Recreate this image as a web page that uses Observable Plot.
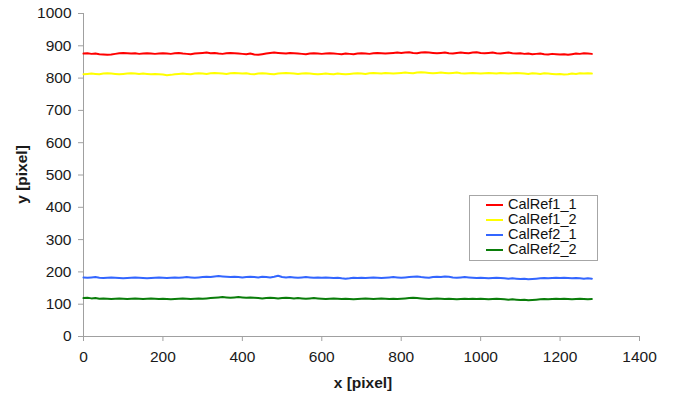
<!DOCTYPE html>
<html>
<head>
<meta charset="utf-8">
<script src="https://cdn.jsdelivr.net/npm/d3@7"></script>
<script src="https://cdn.jsdelivr.net/npm/@observablehq/plot@0.6"></script>
<style>
  body { margin: 0; background: #fff; font-family: "Liberation Sans", Arial, sans-serif; }
  #wrap { position: relative; width: 679px; height: 399px; }
  #legend {
    position: absolute; left: 469px; top: 195px; width: 127px; height: 63px;
    border: 1px solid #a6a6a6; background: #fff; box-sizing: content-box;
    font-size: 14.5px; line-height: 15px; color: #111; padding-top: 1px;
  }
  #legend .row { display: flex; align-items: center; height: 15px; }
  #legend .sw { width: 17px; height: 2px; margin-left: 16px; margin-right: 5px; }
</style>
</head>
<body>
<div id="wrap"><div id="chart"></div><div id="legend"></div></div>
<script>
// Position along the sensor row (x, pixel), sampled every 10 px
const step = 10;
const seriesNames = ["CalRef1_1", "CalRef1_2", "CalRef2_1", "CalRef2_2"];
const seriesColors = ["#ff0000", "#ffff00", "#3366ff", "#0a7d0a"];

// Measured y position [pixel] of each calibration reference
const calRef1_1 = [
  876,877,875,876,874,873,872,873,875,877,
  878,877,876,877,875,876,877,876,875,876,
  877,876,875,877,878,876,875,874,876,877,
  878,879,877,878,876,875,877,878,877,876,
  875,874,876,873,872,874,876,878,879,878,
  877,876,878,877,876,875,874,876,877,876,
  875,876,877,876,875,874,876,875,874,876,
  877,876,875,877,878,877,876,877,878,879,
  878,879,880,878,877,879,880,879,878,877,
  878,879,877,876,878,879,878,877,879,880,
  878,877,878,879,877,876,878,879,877,876,
  877,875,876,874,875,876,874,873,875,874,
  873,874,872,874,876,875,877,876,875
];
const calRef1_2 = [
  812,813,814,813,812,814,815,814,813,812,
  813,814,815,814,813,814,813,812,813,812,
  811,809,810,812,813,814,813,812,814,815,
  814,813,815,816,815,814,813,815,816,815,
  814,815,813,812,814,815,814,813,812,814,
  815,816,815,814,813,814,815,814,813,812,
  813,814,813,812,814,813,812,813,814,815,
  814,813,815,816,815,814,816,815,814,815,
  816,817,816,815,817,818,817,816,815,816,
  817,816,815,816,817,815,814,815,816,815,
  814,815,816,815,814,816,815,814,815,816,
  815,814,813,815,814,813,815,814,813,812,
  813,811,812,814,813,815,814,815,814
];
const calRef2_1 = [
  183,182,183,184,182,181,182,183,182,181,
  180,181,182,183,182,181,180,181,182,183,
  182,181,182,183,182,183,184,183,182,183,
  184,185,184,186,187,186,185,184,185,184,
  183,184,185,184,183,185,184,183,185,188,
  184,183,184,183,182,183,184,183,182,183,
  182,183,182,181,182,180,179,180,182,181,
  182,181,182,183,182,181,182,183,184,183,
  182,183,184,185,186,184,183,182,184,185,
  184,186,185,183,182,183,184,183,182,181,
  182,181,180,181,182,181,180,179,180,179,
  178,179,177,178,179,180,181,180,181,182,
  181,182,181,180,181,180,179,180,179
];
const calRef2_2 = [
  119,120,118,119,117,118,117,116,117,118,
  117,116,117,118,117,116,117,118,117,116,
  117,116,115,116,117,118,117,116,117,118,
  117,118,119,120,121,122,121,120,121,122,
  121,120,121,120,119,118,119,120,119,118,
  119,120,119,118,119,118,117,118,119,118,
  117,116,117,118,117,116,117,116,115,116,
  117,118,117,116,117,118,117,116,117,116,
  117,118,119,120,119,118,117,116,117,118,
  117,116,117,116,115,116,117,116,117,116,
  117,116,115,116,117,116,115,114,115,114,
  113,114,112,113,114,115,116,115,116,117,
  116,117,116,115,116,117,116,115,116
];

const xTicks = [0, 200, 400, 600, 800, 1000, 1200, 1400];
const yTicks = [0, 100, 200, 300, 400, 500, 600, 700, 800, 900, 1000];

const allSeries = [calRef1_1, calRef1_2, calRef2_1, calRef2_2];
const rows = allSeries.flatMap((vals, s) =>
  vals.map((v, i) => ({ series: seriesNames[s], x: i * step, y: v }))
);

const axisGray = "#a0a0a0";
const ink = "#1a1a1a";
const chart = Plot.plot({
  width: 679,
  height: 399,
  marginLeft: 83,
  marginRight: 40,
  marginTop: 13,
  marginBottom: 63,
  style: { fontFamily: "'Liberation Sans', Arial, sans-serif", fontSize: "15.5px", color: ink, background: "#fff" },
  x: { type: "linear", domain: [0, 1400] },
  y: { type: "linear", domain: [0, 1000] },
  color: { domain: seriesNames, range: seriesColors },
  marks: [
    Plot.ruleX([0], { stroke: axisGray }),
    Plot.ruleY([0], { stroke: axisGray }),
    Plot.axisX({ ticks: xTicks, tickFormat: d => String(d), tickSize: 5, tickPadding: 9,
                 stroke: axisGray, fill: ink, label: null, fontSize: 15.5 }),
    Plot.axisY({ ticks: yTicks, tickFormat: d => String(d), tickSize: 5, tickPadding: 7,
                 stroke: axisGray, fill: ink, label: null, fontSize: 15.5 }),
    Plot.line(rows, { x: "x", y: "y", z: "series", stroke: "series", strokeWidth: 2 })
  ]
});

// axis titles
const svg = d3.select(chart);
svg.append("text")
  .attr("x", 83 + (679 - 40 - 83) / 2 + 2).attr("y", 388)
  .attr("text-anchor", "middle").attr("font-weight", "bold").attr("font-size", 15.5)
  .attr("fill", ink).text("x [pixel]");
svg.append("text")
  .attr("transform", `translate(27, ${13 + (399 - 63 - 13) / 2}) rotate(-90)`)
  .attr("text-anchor", "middle").attr("font-weight", "bold").attr("font-size", 15.5)
  .attr("fill", ink).text("y [pixel]");

document.getElementById("chart").append(chart);

const legend = document.getElementById("legend");
seriesNames.forEach((name, i) => {
  const row = document.createElement("div");
  row.className = "row";
  const sw = document.createElement("span");
  sw.className = "sw";
  sw.style.background = seriesColors[i];
  const label = document.createElement("span");
  label.textContent = name;
  row.append(sw, label);
  legend.append(row);
});
</script>
</body>
</html>
